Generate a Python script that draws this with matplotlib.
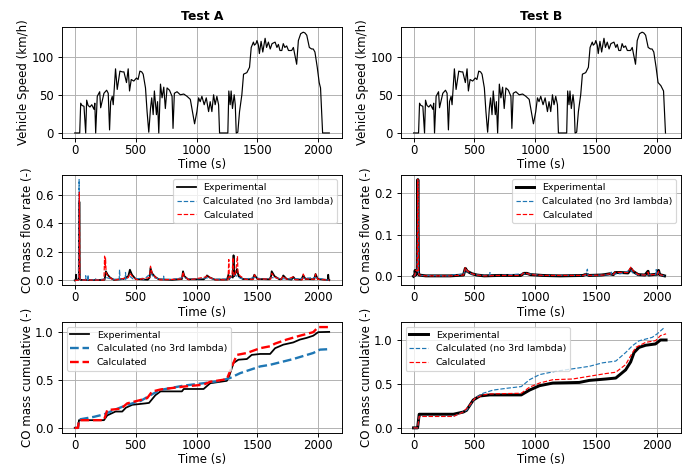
"""CO mass flow: measured vs calculated, two test runs."""
import matplotlib
matplotlib.use('Agg')
import matplotlib.pyplot as plt

# ── vehicle speed (km/h) ────────────────────────────────────────
t_speed_a = [0, 41, 49, 60, 76, 90, 98, 110, 125, 140, 158, 165, 172,
             185, 205, 213, 240, 262, 275, 286, 295, 308, 316, 335, 349, 371,
             390, 404, 425, 439, 450, 464, 485, 507, 520, 535, 550, 562, 581,
             594, 608, 622, 632, 644, 654, 671, 680, 690, 704, 717, 731, 744,
             758, 778, 799, 807, 818, 840, 867, 895, 922, 949, 971, 984, 1003,
             1017, 1030, 1044, 1063, 1080, 1099, 1112, 1126, 1140, 1153, 1167,
             1181, 1189, 1257, 1265, 1276, 1284, 1295, 1309, 1318, 1326, 1339,
             1353, 1372, 1386, 1413, 1435, 1449, 1467, 1475, 1488, 1496, 1508,
             1516, 1530, 1544, 1563, 1575, 1590, 1605, 1620, 1645, 1660, 1672,
             1685, 1700, 1712, 1725, 1740, 1755, 1781, 1795, 1822, 1836, 1855,
             1876, 1890, 1905, 1926, 1945, 1958, 1972, 1991, 2007, 2018, 2035,
             2090]
speed_a = [0, 0, 39, 36, 35, 0, 43, 36, 34, 37, 31, 39, 0,
           48, 54, 33, 52, 56, 52, 4, 41, 48, 37, 84, 57, 81,
           80, 80, 66, 84, 55, 70, 68, 72, 70, 81, 80, 77, 59,
           28, 1, 32, 46, 24, 55, 24, 41, 0, 64, 46, 60, 32,
           59, 56, 48, 6, 52, 54, 50, 51, 48, 44, 24, 12, 28,
           46, 41, 48, 37, 46, 28, 41, 28, 50, 37, 48,
           37, 0, 0, 55, 37, 55, 32, 50, 37, 0, 1,
           28, 50, 77, 79, 86, 112, 119, 115, 117, 121, 115,
           104, 120, 106, 124, 112, 119, 110, 117, 119, 112, 116,
           108, 108, 117, 112, 114, 108, 108, 112, 90, 121, 130,
           132, 131, 128, 112, 110, 110, 106, 86, 66, 59, 0,
           0]
t_speed_b = t_speed_a[:-3] + [2030, 2052, 2068]
speed_b = speed_a[:-3] + [62, 55, 0]

# ── CO mass flow rate (-) ───────────────────────────────────────
t_exp_a = [0, 8, 11, 14, 30, 35, 38, 42, 50, 100, 200, 245, 250, 256, 270,
           290, 322, 400, 440, 453, 470, 500, 600, 615, 622, 635, 660, 690,
           800, 880, 889, 900, 930, 1060, 1080, 1085, 1110, 1150, 1250, 1262,
           1268, 1280, 1298, 1304, 1310, 1325, 1332, 1345, 1380, 1460, 1475,
           1500, 1600, 1612, 1617, 1640, 1680, 1700, 1712, 1740, 1780, 1794,
           1810, 1860, 1876, 1895, 1965, 1977, 1995, 2070, 2078, 2081, 2085,
           2090]
exp_a = [0, 0.002, 0.04, 0.003, 0.004, 0.02, 0.55, 0.01, 0.004, 0.003, 0.003,
         0.005, 0.03, 0.064, 0.04, 0.02, 0.004, 0.01, 0.03, 0.075, 0.04, 0.01,
         0.005, 0.02, 0.087, 0.05, 0.025, 0.008, 0.004, 0.01, 0.064, 0.03,
         0.008, 0.008, 0.025, 0.035, 0.02, 0.006, 0.006, 0.04, 0.01, 0.03,
         0.02, 0.176, 0.03, 0.06, 0.08, 0.03, 0.01, 0.008, 0.04, 0.01, 0.008,
         0.03, 0.064, 0.03, 0.008, 0.01, 0.035, 0.01, 0.006, 0.025, 0.008,
         0.006, 0.035, 0.01, 0.008, 0.045, 0.01, 0.004, 0.004, 0.04, 0.004,
         0.002]
t_nol3_a = [0, 30, 36, 40, 50, 88, 90, 93, 107, 109, 112, 160, 170, 175, 250,
            260, 300, 365, 368, 372, 414, 417, 421, 450, 480, 560, 563, 625,
            650, 700, 728, 730, 733, 800, 890, 950, 1000, 1090, 1150, 1250,
            1280, 1300, 1320, 1360, 1400, 1480, 1550, 1620, 1700, 1800, 1880,
            1980, 2050, 2090]
nol3_a = [0, 0.002, 0.705, 0.02, 0.003, 0.003, 0.033, 0.003, 0.003, 0.038,
          0.003, 0.005, 0.015, 0.004, 0.01, 0.02, 0.01, 0.005, 0.075, 0.01,
          0.006, 0.056, 0.01, 0.03, 0.01, 0.015, 0.004, 0.05, 0.02, 0.01,
          0.005, 0.03, 0.006, 0.008, 0.02, 0.008, 0.01, 0.018, 0.008, 0.01,
          0.02, 0.04, 0.035, 0.015, 0.01, 0.02, 0.008, 0.02, 0.012, 0.01,
          0.015, 0.02, 0.006, 0.002]
t_calc_a = [0, 30, 35, 38, 42, 50, 240, 245, 249, 253, 258, 275, 300, 330,
            440, 453, 475, 510, 615, 622, 635, 665, 700, 880, 889, 900, 940,
            1080, 1088, 1115, 1160, 1258, 1265, 1270, 1290, 1300, 1306, 1320,
            1336, 1340, 1360, 1400, 1468, 1475, 1500, 1610, 1617, 1640, 1690,
            1712, 1740, 1794, 1810, 1870, 1876, 1895, 1970, 1977, 1995, 2090]
calc_a = [0, 0.002, 0.02, 0.617, 0.01, 0.003, 0.003, 0.17, 0.09, 0.16, 0.05,
          0.03, 0.012, 0.003, 0.02, 0.05, 0.025, 0.005, 0.02, 0.10, 0.05,
          0.02, 0.004, 0.01, 0.06, 0.025, 0.004, 0.025, 0.035, 0.018, 0.004,
          0.005, 0.146, 0.02, 0.03, 0.16, 0.03, 0.05, 0.17, 0.05, 0.03, 0.008,
          0.008, 0.04, 0.01, 0.01, 0.05, 0.025, 0.005, 0.03, 0.008, 0.025,
          0.006, 0.005, 0.045, 0.01, 0.008, 0.045, 0.008, 0.002]

t_exp_b = [0, 10, 13, 18, 25, 30, 35, 40, 45, 100, 300, 410, 425, 440, 480,
           520, 580, 700, 880, 905, 930, 960, 1060, 1200, 1390, 1420, 1440,
           1540, 1570, 1610, 1640, 1655, 1700, 1760, 1785, 1800, 1844, 1900,
           1925, 1930, 2000, 2011, 2020, 2060]
exp_b = [0, 0.002, 0.014, 0.004, 0.006, 0.012, 0.232, 0.01, 0.003, 0.001,
         0.001, 0.003, 0.019, 0.012, 0.006, 0.003, 0.001, 0.002, 0.002, 0.007,
         0.007, 0.004, 0.002, 0.001, 0.002, 0.005, 0.002, 0.003, 0.004, 0.006,
         0.004, 0.009, 0.009, 0.008, 0.018, 0.012, 0.004, 0.003, 0.012, 0.003,
         0.005, 0.014, 0.004, 0.001]
t_nol3_b = [0, 12, 20, 30, 35, 40, 45, 300, 330, 360, 390, 410, 425, 445, 480,
            560, 625, 627, 630, 700, 905, 930, 1060, 1410, 1427, 1432, 1560,
            1620, 1623, 1626, 1660, 1700, 1785, 1800, 1850, 1988, 1992, 1996,
            2011, 2020, 2060]
nol3_b = [0, 0.002, 0.008, 0.01, 0.23, 0.008, 0.002, 0.001, 0.004, 0.003,
          0.005, 0.004, 0.018, 0.01, 0.005, 0.002, 0.002, 0.009, 0.002,
          0.002, 0.006, 0.006, 0.002, 0.002, 0.017, 0.002, 0.003, 0.004,
          0.01, 0.004, 0.006, 0.006, 0.015, 0.008, 0.003, 0.004, 0.016,
          0.004, 0.01, 0.003, 0.001]
t_calc_b = [0, 10, 15, 20, 30, 35, 40, 45, 100, 300, 410, 425, 440, 480, 520,
            580, 700, 880, 905, 930, 960, 1060, 1390, 1420, 1440, 1560, 1610,
            1640, 1655, 1700, 1760, 1785, 1800, 1844, 1900, 1925, 1930, 2000,
            2011, 2020, 2060]
calc_b = [0, 0.002, 0.012, 0.015, 0.012, 0.232, 0.01, 0.003, 0.001, 0.001,
          0.003, 0.021, 0.013, 0.006, 0.003, 0.001, 0.002, 0.002, 0.008,
          0.007, 0.004, 0.002, 0.002, 0.005, 0.002, 0.003, 0.006, 0.004,
          0.01, 0.009, 0.009, 0.023, 0.014, 0.004, 0.003, 0.01, 0.003, 0.005,
          0.012, 0.004, 0.001]

# ── cumulative CO mass (normalised) ─────────────────────────────
t_cexp_a = [0, 27, 35, 240, 267, 335, 390, 420, 472, 580, 610, 662, 704, 880,
            895, 1058, 1112, 1249, 1271, 1303, 1344, 1413, 1453, 1522, 1604,
            1645, 1713, 1794, 1849, 1903, 1958, 1999, 2089]
cexp_a = [0, 0, 0.08, 0.08, 0.13, 0.17, 0.17, 0.21, 0.24, 0.255, 0.26, 0.34,
          0.38, 0.38, 0.405, 0.405, 0.465, 0.49, 0.55, 0.675, 0.71, 0.717,
          0.76, 0.77, 0.77, 0.83, 0.867, 0.89, 0.92, 0.937, 0.96, 0.997, 1.0]
t_cnol3_a = [0, 27, 35, 158, 240, 322, 431, 540, 635, 704, 894, 1058, 1194,
             1276, 1358, 1522, 1604, 1794, 1958, 2013, 2089]
cnol3_a = [0, 0, 0.087, 0.115, 0.14, 0.185, 0.24, 0.28, 0.35, 0.395, 0.44,
           0.465, 0.49, 0.52, 0.57, 0.64, 0.657, 0.717, 0.78, 0.815, 0.82]
t_ccalc_a = [0, 27, 35, 240, 267, 380, 431, 540, 595, 635, 704, 894, 1058,
             1112, 1249, 1290, 1331, 1413, 1522, 1604, 1645, 1740, 1849, 1958,
             1999, 2089]
ccalc_a = [0, 0, 0.08, 0.08, 0.185, 0.2, 0.255, 0.29, 0.31, 0.378, 0.40, 0.43,
           0.45, 0.48, 0.507, 0.64, 0.76, 0.78, 0.83, 0.85, 0.878, 0.92, 0.96,
           0.997, 1.05, 1.05]

t_cexp_b = [0, 33, 46, 327, 408, 435, 490, 544, 626, 884, 952, 1034, 1143,
            1361, 1442, 1578, 1660, 1741, 1782, 1810, 1850, 1905, 1986, 2027,
            2073]
cexp_b = [0, 0, 0.155, 0.155, 0.18, 0.2, 0.317, 0.363, 0.375, 0.375, 0.43,
          0.48, 0.51, 0.517, 0.54, 0.556, 0.567, 0.66, 0.75, 0.857, 0.915,
          0.94, 0.955, 1.0, 1.0]
t_cnol3_b = [0, 33, 46, 327, 435, 503, 571, 653, 762, 884, 952, 1034, 1170,
             1306, 1442, 1551, 1660, 1741, 1796, 1850, 1959, 2000, 2063]
cnol3_b = [0, 0, 0.13, 0.13, 0.2, 0.336, 0.394, 0.43, 0.45, 0.47, 0.548,
           0.606, 0.645, 0.672, 0.70, 0.74, 0.76, 0.857, 0.934, 0.99, 1.03,
           1.07, 1.147]
t_ccalc_b = [0, 33, 46, 327, 408, 449, 503, 571, 626, 884, 952, 1034, 1143,
             1306, 1442, 1578, 1660, 1741, 1782, 1823, 1905, 1986, 2027, 2073]
ccalc_b = [0, 0, 0.13, 0.13, 0.18, 0.24, 0.336, 0.375, 0.386, 0.394, 0.463,
           0.51, 0.548, 0.556, 0.587, 0.618, 0.633, 0.72, 0.82, 0.915, 0.973,
           0.992, 1.05, 1.07]

LBL = ['Experimental', 'Calculated (no 3rd lambda)', 'Calculated']
BLUE, RED = '#1f77b4', 'red'

plt.rcParams['xtick.major.pad'] = 1.5
plt.rcParams['axes.labelpad'] = 1.0

fig, axes = plt.subplots(3, 2, figsize=(685/85, 468/85), dpi=85, sharex=True)
fig.subplots_adjust(left=0.0905, right=0.994, top=0.942, bottom=0.075,
                    wspace=0.21, hspace=0.33)

# row 1: speed
for ax, t, v, ttl in [(axes[0, 0], t_speed_a, speed_a, 'Test A'),
                      (axes[0, 1], t_speed_b, speed_b, 'Test B')]:
    ax.plot(t, v, color='k', lw=1)
    ax.set_ylabel('Vehicle Speed (km/h)')
    ax.set_title(ttl, fontweight='bold', fontsize=10.5)

# row 2: flow rate
ax = axes[1, 0]
ax.plot(t_exp_a, exp_a, color='k', lw=1.5, label=LBL[0])
ax.plot(t_nol3_a, nol3_a, '--', color=BLUE, lw=1, label=LBL[1])
ax.plot(t_calc_a, calc_a, '--', color=RED, lw=1, label=LBL[2])
ax.set_ylim(-0.035, 0.74)
ax.legend(loc='upper right', fontsize=8)

ax = axes[1, 1]
ax.plot(t_exp_b, exp_b, color='k', lw=2.5, label=LBL[0])
ax.plot(t_nol3_b, nol3_b, '--', color=BLUE, lw=1, label=LBL[1])
ax.plot(t_calc_b, calc_b, '--', color=RED, lw=1, label=LBL[2])
ax.set_ylim(-0.022, 0.244)
ax.legend(loc='upper right', fontsize=8)
for ax in axes[1]:
    ax.set_ylabel('CO mass flow rate (-)')

# row 3: cumulative
ax = axes[2, 0]
ax.plot(t_cexp_a, cexp_a, color='k', lw=1.5, label=LBL[0])
ax.plot(t_cnol3_a, cnol3_a, '--', color=BLUE, lw=2, label=LBL[1])
ax.plot(t_ccalc_a, ccalc_a, '--', color=RED, lw=2, label=LBL[2])
ax.legend(loc='upper left', fontsize=8)

ax = axes[2, 1]
ax.plot(t_cexp_b, cexp_b, color='k', lw=2.5, label=LBL[0])
ax.plot(t_cnol3_b, cnol3_b, '--', color=BLUE, lw=1, label=LBL[1])
ax.plot(t_ccalc_b, ccalc_b, '--', color=RED, lw=1, label=LBL[2])
ax.legend(loc='upper left', fontsize=8)
for ax in axes[2]:
    ax.set_ylabel('CO mass cumulative (-)')

for ax in axes.flat:
    ax.grid(True)
    ax.set_xlabel('Time (s)')
    ax.tick_params(labelbottom=True)

fig.savefig('out.png', dpi=85)
